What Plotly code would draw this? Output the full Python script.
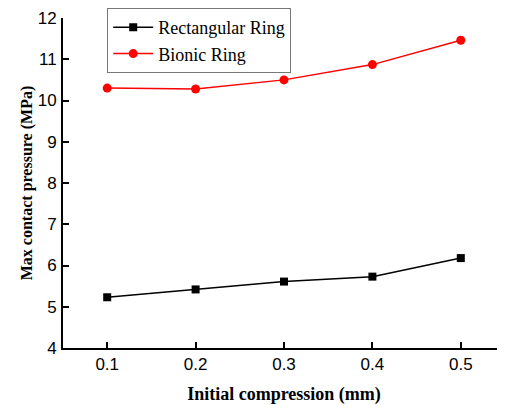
import plotly.graph_objects as go

compression = [0.1, 0.2, 0.3, 0.4, 0.5]
rectangular = [5.23, 5.42, 5.61, 5.73, 6.18]
bionic = [10.30, 10.28, 10.50, 10.87, 11.46]
x_ticks = [0.1, 0.2, 0.3, 0.4, 0.5]
y_ticks = [4, 5, 6, 7, 8, 9, 10, 11, 12]

fig = go.Figure()
fig.add_trace(go.Scatter(x=compression, y=rectangular, mode="lines+markers",
                         name="Rectangular Ring",
                         line=dict(color="black", width=1.5),
                         marker=dict(symbol="square", size=8, color="black")))
fig.add_trace(go.Scatter(x=compression, y=bionic, mode="lines+markers",
                         name="Bionic Ring",
                         line=dict(color="red", width=1.5),
                         marker=dict(symbol="circle", size=9, color="red")))

# the page body adds an 8px offset, so the figure is 8px smaller each way
fig.update_layout(
    width=497, height=397,
    margin=dict(l=55, r=0, t=0, b=57, autoexpand=False),
    plot_bgcolor="white", paper_bgcolor="white",
    showlegend=True,
    legend=dict(x=0.1, y=1.0, xanchor="left", yanchor="top",
                bordercolor="#777777", borderwidth=1, bgcolor="white",
                font=dict(family="Liberation Serif", size=18, color="black"),
                tracegroupgap=0, itemwidth=40),
    xaxis=dict(range=[0.05, 0.55], tickvals=x_ticks, ticktext=[f"{v:.1f}" for v in x_ticks],
               showline=True, linecolor="black", linewidth=2,
               ticks="inside", ticklen=6, tickwidth=2, tickcolor="black",
               ticklabelstandoff=0,
               showgrid=False, zeroline=False, automargin=False,
               tickfont=dict(family="Liberation Sans", size=17, color="black"),
               title=dict(text="<b>Initial compression (mm)</b>", standoff=14,
                          font=dict(family="Liberation Serif", size=18, color="black"))),
    yaxis=dict(range=[4, 12], tickvals=y_ticks, domain=[0, 330 / 340],
               showline=True, linecolor="black", linewidth=2,
               ticks="inside", ticklen=6, tickwidth=2, tickcolor="black",
               ticklabelstandoff=1,
               showgrid=False, zeroline=False, automargin=False,
               tickfont=dict(family="Liberation Sans", size=17, color="black"),
               title=dict(text="<b>Max contact pressure (MPa)</b>", standoff=1,
                          font=dict(family="Liberation Serif", size=16, color="black"))),
)
fig.write_html("out.html")
